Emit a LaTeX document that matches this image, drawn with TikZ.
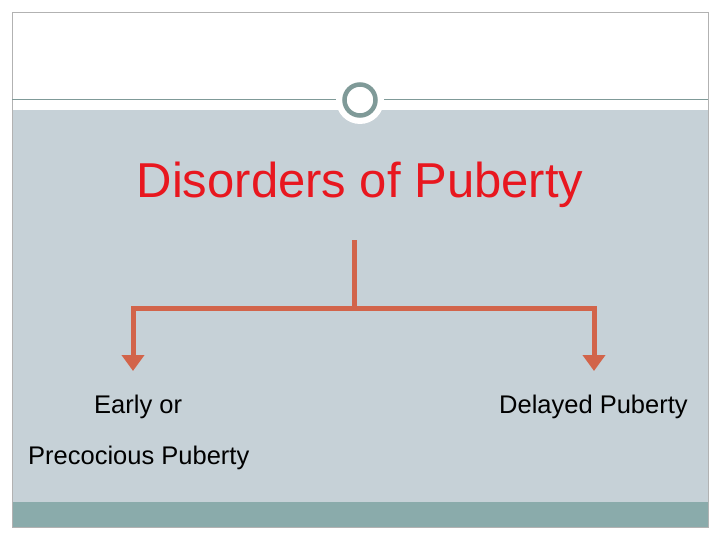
\documentclass[tikz,border=0pt]{standalone}
\usepackage{fontspec}
\setmainfont{Liberation Sans}
\usetikzlibrary{arrows.meta}
\definecolor{bg}{HTML}{C6D1D7}
\definecolor{teal}{HTML}{8AABAB}
\definecolor{ring}{HTML}{7F9A98}
\definecolor{conn}{HTML}{D2644A}
\definecolor{ttl}{HTML}{E8171F}
\tikzset{conline/.style={conn,line width=5pt},
  arr/.style={conline,-{Triangle[width=22pt,length=16pt]}},
  lbl/.style={font=\fontsize{25.5}{30}\selectfont,text=black,inner sep=0pt}}
\begin{document}
\begin{tikzpicture}[x=1pt,y=-1pt]
\useasboundingbox (0,0) rectangle (720,540);
\fill[white] (0,0) rectangle (720,540);
\fill[bg] (12,110) rectangle (708,502);
\fill[teal] (12,502) rectangle (708,527);
\draw[gray!60,line width=0.8pt] (12,12) rectangle (708,527);
\draw[ring,line width=1pt] (12,100) -- (708,100);
\fill[white] (360,100) circle (24);
\draw[ring,line width=4.5pt,fill=white] (360,100) circle (15.5);
\node[text=ttl,font=\fontsize{49}{56}\selectfont,inner sep=0pt] (title) at (360,185) {Disorders of Puberty};
\coordinate (top) at (354,240);
\coordinate (mid) at (354,308);
\coordinate (l) at (133,308);
\coordinate (r) at (594,308);
\coordinate (la) at (133,371);
\coordinate (ra) at (594,371);
\draw[conline] (top) -- (mid);
\draw[arr] ([xshift=2.5pt]mid) -- (l) -- (la);
\draw[arr] ([xshift=-2.5pt]mid) -- (r) -- (ra);
\node[lbl,anchor=west] (e1) at (94,407) {Early or};
\node[lbl,anchor=west] (e2) at (28,458) {Precocious Puberty};
\node[lbl,anchor=west] (d) at (499,407) {Delayed Puberty};
\end{tikzpicture}
\end{document}
